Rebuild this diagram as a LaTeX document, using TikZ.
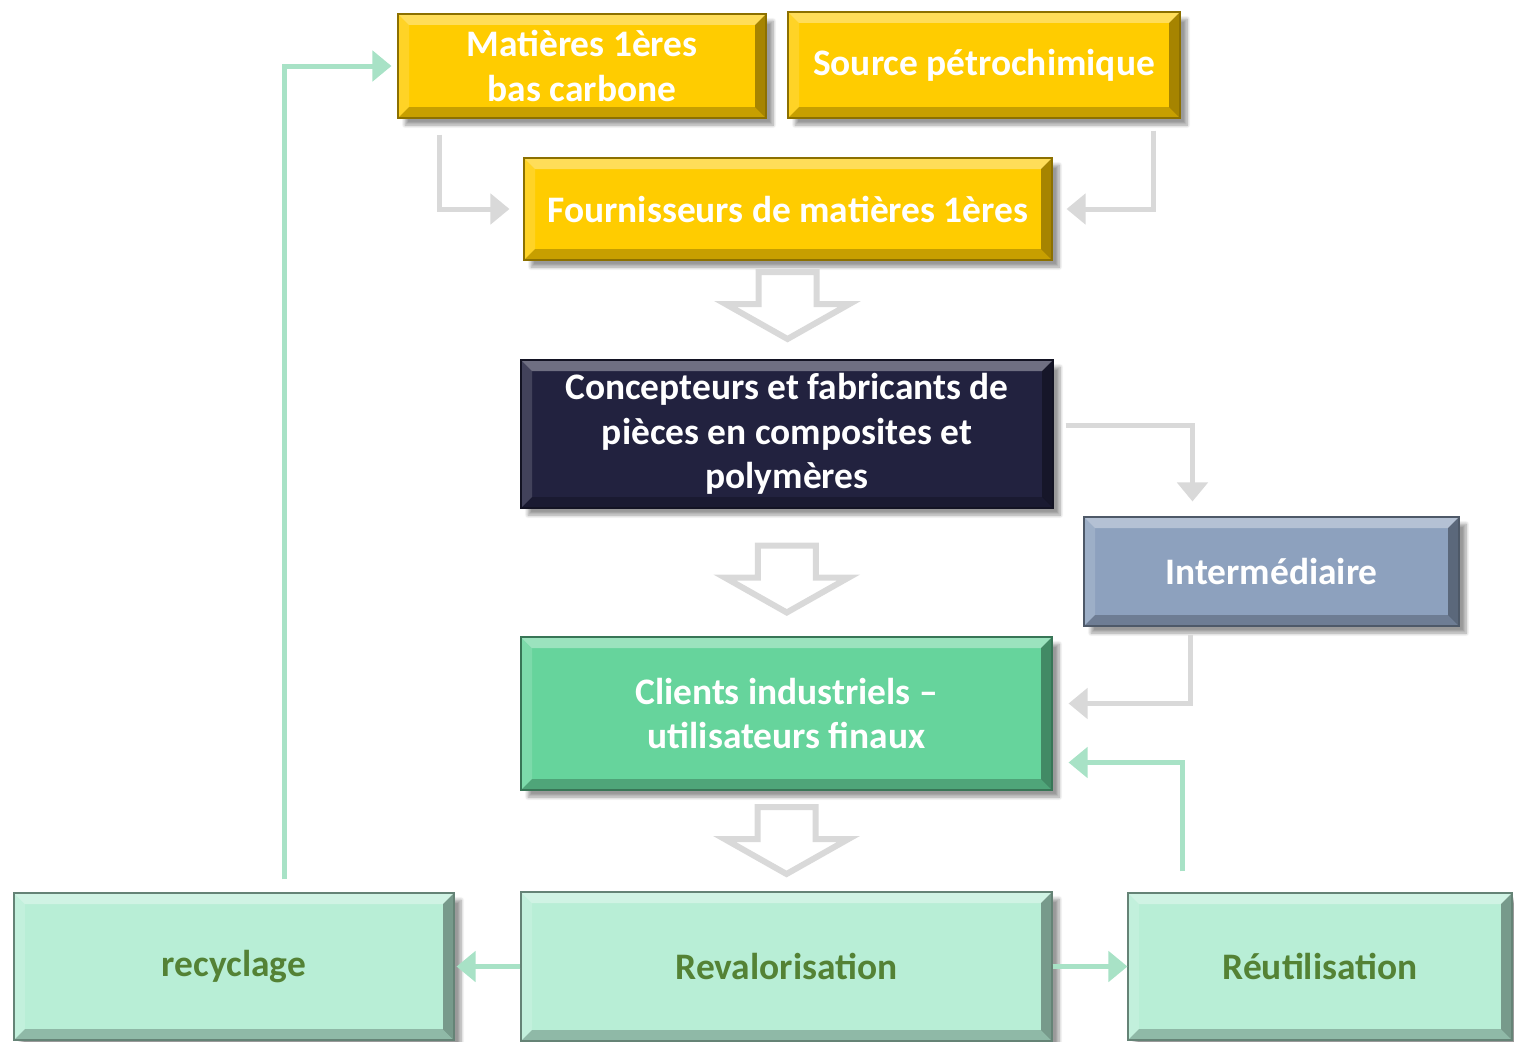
\documentclass[tikz,border=0pt]{standalone}
\usepackage{fontspec}
\setmainfont{Carlito}
\usetikzlibrary{arrows.meta,shadows.blur,calc}
\definecolor{jaune}{HTML}{FFCC00}
\definecolor{marine}{HTML}{22223F}
\definecolor{ardoise}{HTML}{8DA1BE}
\definecolor{menthe}{HTML}{66D49C}
\definecolor{vertpale}{HTML}{B8EED6}
\definecolor{olive}{HTML}{548235}
\definecolor{grisfl}{HTML}{D9D9D9}
\definecolor{vertfl}{HTML}{A8E2C6}
\newcommand{\pxu}{0.02cm}
\newcommand{\bevw}{0.22cm}

\tikzset{
	bevel/.style={path picture={
		\fill[white,opacity=.35] (path picture bounding box.north west) -- (path picture bounding box.north east) -- ([shift={(-\bevw,-\bevw)}]path picture bounding box.north east) -- ([shift={(\bevw,-\bevw)}]path picture bounding box.north west) -- cycle;
		\fill[white,opacity=.15] (path picture bounding box.north west) -- (path picture bounding box.south west) -- ([shift={(\bevw,\bevw)}]path picture bounding box.south west) -- ([shift={(\bevw,-\bevw)}]path picture bounding box.north west) -- cycle;
		\fill[black,opacity=.35] (path picture bounding box.north east) -- (path picture bounding box.south east) -- ([shift={(-\bevw,\bevw)}]path picture bounding box.south east) -- ([shift={(-\bevw,-\bevw)}]path picture bounding box.north east) -- cycle;
		\fill[black,opacity=.22] (path picture bounding box.south west) -- (path picture bounding box.south east) -- ([shift={(-\bevw,\bevw)}]path picture bounding box.south east) -- ([shift={(\bevw,\bevw)}]path picture bounding box.south west) -- cycle;
	}},
	boite/.style={rectangle, inner sep=0pt, align=center, text=white,
		font=\fontsize{21.3}{25.5}\selectfont\bfseries,
		fill=#1, draw=#1!55!black, line width=0.6pt, bevel,
		blur shadow={shadow xshift=4pt, shadow yshift=-4pt, shadow blur steps=8, shadow opacity=40}},
	flgris/.style={draw=grisfl, line width=0.1cm, -{Triangle[length=0.38cm,width=0.6cm]}},
	flvert/.style={draw=vertfl, line width=0.1cm, -{Triangle[length=0.38cm,width=0.6cm]}},
	creux/.pic={\draw[grisfl, line width=0.12cm, fill=white, line join=miter] (-29,-34) -- (29,-34) -- (29,-2) -- (62,-2) -- (0,33) -- (-62,-2) -- (-29,-2) -- cycle;}
}

\begin{document}
\begin{tikzpicture}[x=0.02cm,y=-0.02cm]
	\useasboundingbox (0,0) rectangle (1514,1041);

	\node[boite=jaune, minimum width=368*\pxu, minimum height=104*\pxu] (mat) at (582,66) {Matières 1ères\\bas carbone};
	\node[boite=jaune, minimum width=392*\pxu, minimum height=106*\pxu] (src) at (984,65) {Source pétrochimique};
	\node[boite=jaune, minimum width=528*\pxu, minimum height=102*\pxu] (fourn) at (788,209) {Fournisseurs de matières 1ères};
	\node[boite=marine, minimum width=532*\pxu, minimum height=148*\pxu] (concep) at (787,434) {Concepteurs et fabricants de\\pièces en composites et\\polymères};
	\node[boite=ardoise, minimum width=375*\pxu, minimum height=109*\pxu] (inter) at (1271.5,571.5) {Intermédiaire};
	\node[boite=menthe, minimum width=531*\pxu, minimum height=153*\pxu] (clients) at (786.5,713.5) {Clients industriels --\\utilisateurs finaux};
	\node[boite=vertpale, text=olive, minimum width=440*\pxu, minimum height=147*\pxu] (recyc) at (234,966.5) {recyclage};
	\node[boite=vertpale, text=olive, minimum width=531*\pxu, minimum height=149*\pxu] (reval) at (786.5,966.5) {Revalorisation};
	\node[boite=vertpale, text=olive, minimum width=384*\pxu, minimum height=147*\pxu] (reut) at (1320,966.5) {Réutilisation};

	\draw[flgris] ([shift={(42,16)}]mat.south west) |- ([shift={(-14,0)}]fourn.west);
	\draw[flgris] ([shift={(-27,12)}]src.south east) |- ([shift={(14,0)}]fourn.east);
	\draw[flgris] ([shift={(12,-9)}]concep.east) -| ([shift={(109,-15)}]inter.north west);
	\draw[flgris] ([shift={(107,8)}]inter.south west) |- ([shift={(16,-10)}]clients.east);
	\draw[flvert] ([shift={(55,-21)}]reut.north west) |- ([shift={(16,49)}]clients.east);
	\draw[flvert] (reval.west) -- ([shift={(2,0)}]recyc.east);
	\draw[flvert] (reval.east) -- (reut.west);
	\draw[flvert] ([shift={(50,-13)}]recyc.north) |- ([shift={(-6,0)}]mat.west);

	\path ($(fourn.south)!0.5!(concep.north)$) pic[yshift=0.08cm] {creux};
	\path ($(concep.south)!0.5!(clients.north)$) pic[yshift=-0.14cm] {creux};
	\path ($(clients.south)!0.5!(reval.north)$) pic {creux};
\end{tikzpicture}
\end{document}
